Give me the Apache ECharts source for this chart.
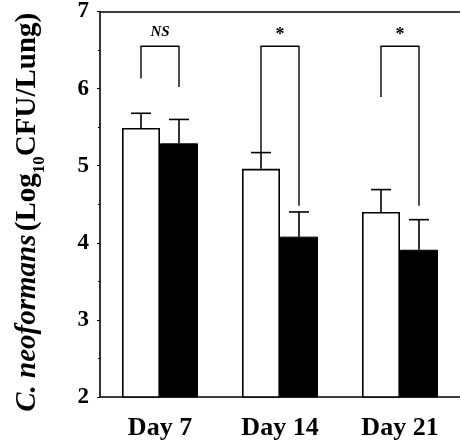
<!DOCTYPE html>
<html><head><meta charset="utf-8">
<script src="https://cdn.jsdelivr.net/npm/echarts@6/dist/echarts.min.js"></script>
<style>html,body{margin:0;padding:0;background:#fff}#c{width:460px;height:443px}</style>
</head><body><div id="c"></div>
<script>
const categories = ['Day 7', 'Day 14', 'Day 21'];
const whiteMeans = [5.49, 4.96, 4.40];
const whiteErrTop = [5.68, 5.17, 4.69];
const blackMeans = [5.29, 4.08, 3.91];
const blackErrTop = [5.60, 4.40, 4.30];
const bracketTop = [6.55, 6.55, 6.55];
const bracketLeftEnd = [6.13, 5.17, 5.89];
const bracketRightEnd = [6.02, 4.48, 4.48];
const sigLabels = ['NS', '*', '*'];
const yTicks = [2, 3, 4, 5, 6, 7];

const BW = 38, HALF = 19;
const font = 'Liberation Serif, Times New Roman, serif';

function errRender(side) {
  return function (params, api) {
    const c = api.value(0);
    const p0 = api.coord([c, api.value(1)]);
    const p1 = api.coord([c, api.value(2)]);
    const x = p0[0] + side * HALF;
    return {
      type: 'group', children: [
        { type: 'line', shape: { x1: x, y1: p0[1], x2: x, y2: p1[1] }, style: { stroke: '#000', lineWidth: 1.6 } },
        { type: 'line', shape: { x1: x - 10, y1: p1[1], x2: x + 10, y2: p1[1] }, style: { stroke: '#000', lineWidth: 1.6 } }
      ]
    };
  };
}

function bracketRender(params, api) {
  const c = api.value(0);
  const t = api.coord([c, api.value(1)]);
  const l = api.coord([c, api.value(2)]);
  const r = api.coord([c, api.value(3)]);
  const xl = t[0] - HALF, xr = t[0] + HALF;
  const lab = sigLabels[params.dataIndex];
  const isNS = lab === 'NS';
  return {
    type: 'group', children: [
      { type: 'polyline', shape: { points: [[xl, l[1]], [xl, t[1]], [xr, t[1]], [xr, r[1]]] }, style: { stroke: '#000', lineWidth: 1.4, fill: null } },
      { type: 'text', x: t[0], y: t[1] - (isNS ? 14 : 11), style: { text: lab, fill: '#000', align: 'center', verticalAlign: 'middle',
        font: (isNS ? 'italic bold 15px ' : 'bold 18px ') + font } }
    ]
  };
}

const chart = echarts.init(document.getElementById('c'), null, { renderer: 'canvas' });
chart.setOption({
  animation: false,
  backgroundColor: '#fff',
  grid: { left: 100, right: 0, top: 10, bottom: 46 },
  xAxis: [{
    type: 'category', data: categories,
    axisLine: { lineStyle: { color: '#000', width: 1.6 } },
    axisTick: { show: false },
    axisLabel: { color: '#000', fontFamily: font, fontWeight: 'bold', fontSize: 26, margin: 18 }
  }, {
    type: 'category', data: categories, position: 'top',
    axisLine: { lineStyle: { color: '#000', width: 1.6 } },
    axisTick: { show: false }, axisLabel: { show: false }
  }],
  yAxis: {
    type: 'value', min: yTicks[0], max: yTicks[yTicks.length - 1], interval: 1,
    axisLine: { show: true, lineStyle: { color: '#000', width: 1.6 } },
    axisTick: { show: true, length: 3, lineStyle: { color: '#000' } },
    minorTick: { show: true, splitNumber: 2, length: 2, lineStyle: { color: '#000' } },
    splitLine: { show: false },
    axisLabel: { color: '#000', fontFamily: font, fontWeight: 'bold', fontSize: 23, margin: 11 },
    name: '{i|C. neoformans} {b|(Log}{s|10}{b|CFU/Lung)}',
    nameLocation: 'middle', nameGap: 56, nameRotate: 90,
    nameTextStyle: {
      padding: [0, 16, 0, 0],
      rich: {
        i: { fontFamily: font, fontStyle: 'italic', fontWeight: 'bold', fontSize: 29, color: '#000', lineHeight: 32 },
        b: { fontFamily: font, fontWeight: 'bold', fontSize: 29, color: '#000', lineHeight: 32 },
        s: { fontFamily: font, fontWeight: 'bold', fontSize: 17, color: '#000', lineHeight: 32, verticalAlign: 'bottom', padding: [0, 0, -4, 0] }
      }
    }
  },
  series: [
    { type: 'bar', data: whiteMeans, barWidth: BW, barGap: '0%',
      itemStyle: { color: '#fff', borderColor: '#000', borderWidth: 1.6 } },
    { type: 'bar', data: blackMeans, barWidth: BW, barGap: '0%',
      itemStyle: { color: '#000', borderColor: '#000', borderWidth: 1 } },
    { type: 'custom', renderItem: errRender(-1), z: 5,
      data: categories.map((c, i) => [i, whiteMeans[i], whiteErrTop[i]]) },
    { type: 'custom', renderItem: errRender(1), z: 5,
      data: categories.map((c, i) => [i, blackMeans[i], blackErrTop[i]]) },
    { type: 'custom', renderItem: bracketRender, z: 6,
      data: categories.map((c, i) => [i, bracketTop[i], bracketLeftEnd[i], bracketRightEnd[i]]) }
  ]
});
</script></body></html>
